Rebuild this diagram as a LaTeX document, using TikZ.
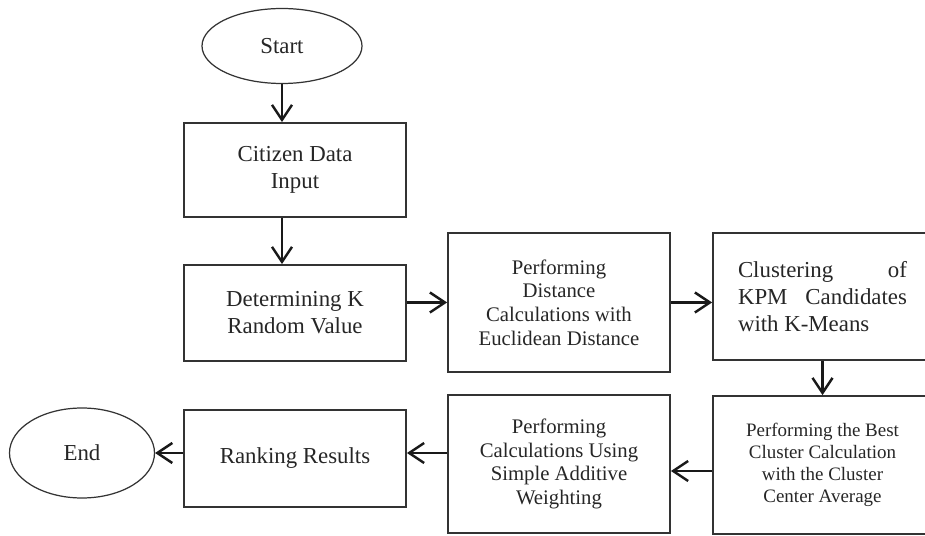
\documentclass[tikz,border=0pt]{standalone}
\usepackage{fontspec}
\setmainfont{Liberation Serif}
\usetikzlibrary{shapes.geometric,arrows.meta}
\hyphenpenalty=10000
\begin{document}
\begin{tikzpicture}[
  box/.style={draw=black!80,line width=1pt,rectangle,align=center,text=black!85,font=\fontsize{13}{15.3}\selectfont},
  term/.style={draw=black!80,line width=0.7pt,ellipse,text=black!85,font=\fontsize{13}{15.3}\selectfont},
  arr/.style={draw=black!90,line width=1.4pt,-{Straight Barb[length=3mm,width=4mm]}}]
\useasboundingbox (0,0) rectangle (18.5,-10.72);
% top column
\node[term,minimum width=3.2cm,minimum height=1.5cm] (start) at (5.64,-0.92) {Start};
\node[box,minimum width=4.44cm,minimum height=1.88cm] (input) at (5.90,-3.40) {Citizen Data\\Input};
\node[box,minimum width=4.44cm,minimum height=1.92cm] (krand) at (5.90,-6.26) {Determining K\\Random Value};
\node[box,minimum width=4.44cm,minimum height=2.78cm,font=\fontsize{11.8}{13.4}\selectfont] (dist) at (11.18,-6.05) {Performing\\Distance\\Calculations with\\Euclidean Distance};
\node[box,minimum width=4.38cm,minimum height=2.54cm,text width=3.38cm,align=justify] (clust) at (16.45,-5.93) {Clustering of KPM Candidates with K-Means};
% bottom row
\node[box,minimum width=4.38cm,minimum height=2.76cm,font=\fontsize{10.8}{12.5}\selectfont] (best) at (16.45,-9.30) {Performing the Best\\Cluster Calculation\\with the Cluster\\Center Average};
\node[box,minimum width=4.44cm,minimum height=2.76cm,font=\fontsize{11.8}{13.4}\selectfont] (saw) at (11.18,-9.28) {Performing\\Calculations Using\\Simple Additive\\Weighting};
\node[box,minimum width=4.44cm,minimum height=1.94cm] (rank) at (5.90,-9.17) {Ranking Results};
\node[term,minimum width=2.9cm,minimum height=1.8cm] (end) at (1.64,-9.06) {End};
% connectors
\coordinate (bw) at ([yshift=-1.2mm]best.west);
\draw[arr] (start.south) -- (start.south |- input.north);
\draw[arr] (input.south -| start.south) -- (krand.north -| start.south);
\draw[arr] (krand.east |- dist.west) -- (dist.west);
\draw[arr] (dist.east) -- (dist.east -| clust.west);
\draw[arr] (clust.south) -- (best.north);
\draw[arr] (bw) -- (bw -| saw.east);
\draw[arr] (saw.west |- end) -- (rank.east |- end);
\draw[arr] (rank.west |- end) -- (end.east);
\end{tikzpicture}
\end{document}
